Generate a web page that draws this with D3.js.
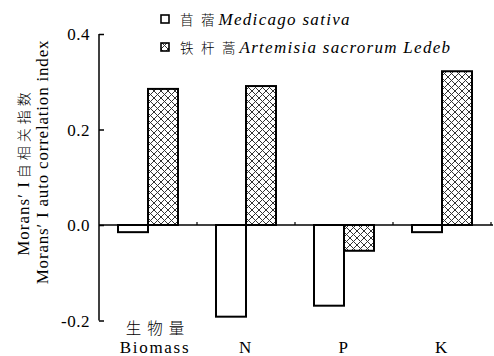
<!DOCTYPE html>
<html><head><meta charset="utf-8">
<script src="https://cdn.jsdelivr.net/npm/d3@7"></script>
<style>body{margin:0;background:#fff}svg{display:block}</style>
</head><body>
<svg id="c" width="494" height="356"></svg>
<script>
const categoriesZh = ["生物量", "", "", ""];
const categoriesEn = ["Biomass", "N", "P", "K"];
const medicago = [-0.015, -0.192, -0.169, -0.015];
const artemisia = [0.285, 0.291, -0.054, 0.322];
const yTicks = [-0.2, 0.0, 0.2, 0.4];
const seriesNames = [
  {zh: "苜蓿", en: "Medicago sativa"},
  {zh: "铁杆蒿", en: "Artemisia sacrorum Ledeb"}
];

const svg = d3.select("#c");
const serif = "'Liberation Serif','Times New Roman',serif";
const cjk = "'Noto Sans CJK SC',sans-serif";

const defs = svg.append("defs");
const pat = defs.append("pattern").attr("id","hatch").attr("patternUnits","userSpaceOnUse")
  .attr("width",7).attr("height",7);
pat.append("rect").attr("width",7).attr("height",7).attr("fill","#fff");
pat.append("path").attr("d","M0,0L7,7M7,0L0,7M-1,6L1,8M6,-1L8,1M-1,1L1,-1M6,8L8,6")
  .attr("stroke","#333").attr("stroke-width",1);

const x = d3.scaleBand().domain(categoriesEn).range([99, 491]).padding(0);
const y = d3.scaleLinear().domain([-0.2, 0.4]).range([320.5, 34]);
const bw = 30;

// bars
const g = svg.append("g");
categoriesEn.forEach((c, i) => {
  const cx = x(c) + x.bandwidth() / 2;
  const v1 = medicago[i], v2 = artemisia[i];
  g.append("rect").attr("x", cx - bw).attr("width", bw)
    .attr("y", y(Math.max(0, v1))).attr("height", Math.abs(y(v1) - y(0)))
    .attr("fill", "#fff").attr("stroke", "#000").attr("stroke-width", 2);
  g.append("rect").attr("x", cx).attr("width", bw)
    .attr("y", y(Math.max(0, v2))).attr("height", Math.abs(y(v2) - y(0)))
    .attr("fill", "url(#hatch)").attr("stroke", "#000").attr("stroke-width", 2);
});

// zero line with category ticks
svg.append("line").attr("x1", 99).attr("x2", 493).attr("y1", y(0)).attr("y2", y(0))
  .attr("stroke", "#000").attr("stroke-width", 1.5);
categoriesEn.forEach(c => {
  const xx = x(c) + x.bandwidth();
  svg.append("line").attr("x1", xx).attr("x2", xx).attr("y1", y(0)).attr("y2", y(0) - 3)
    .attr("stroke", "#000").attr("stroke-width", 1.2);
});

// y axis
const yAxis = d3.axisRight(y).tickValues(yTicks).tickSize(5).tickFormat("");
const ya = svg.append("g").attr("transform", "translate(99,0)").call(yAxis);
ya.select(".domain").attr("d", `M0,${y(0.4)}V${y(-0.2)}`).attr("stroke-width", 1.5);
ya.selectAll(".tick line").attr("stroke-width", 1.5);
svg.selectAll(".ylab").data(yTicks).enter().append("text")
  .attr("x", 90).attr("y", d => y(d) + 6).attr("text-anchor", "end")
  .attr("font-family", serif).attr("font-size", 17).attr("letter-spacing", 0.5)
  .text(d => d3.format(".1f")(d).replace("−", "-"));

// x labels
categoriesEn.forEach((c, i) => {
  const cx = x(c) + x.bandwidth() / 2 + (categoriesZh[i] ? 7 : 0);
  if (categoriesZh[i]) {
    svg.append("text").attr("x", cx + 3).attr("y", 334).attr("text-anchor", "middle")
      .attr("font-family", cjk).attr("font-size", 15.5).attr("font-weight", 300)
      .attr("letter-spacing", 6).text(categoriesZh[i]);
  }
  svg.append("text").attr("x", cx).attr("y", 352.5).attr("text-anchor", "middle")
    .attr("font-family", serif).attr("font-size", 17).attr("letter-spacing", 1.7).text(c);
});

// y title
const t1 = svg.append("text").attr("transform", "translate(29,172) rotate(-90)")
  .attr("text-anchor", "middle").attr("font-size", 17);
t1.append("tspan").attr("font-family", serif).attr("letter-spacing", 1).text("Morans′ I");
t1.append("tspan").attr("font-family", cjk).attr("font-size", 14).attr("font-weight", 300)
  .attr("letter-spacing", 4).attr("dx", 3).text("自相关指数");
svg.append("text").attr("transform", "translate(48,162) rotate(-90)")
  .attr("text-anchor", "middle").attr("font-family", serif).attr("font-size", 17)
  .attr("letter-spacing", 0.8).text("Morans′ I auto correlation index");

// legend
seriesNames.forEach((s, i) => {
  const by = 25 + i * 28;
  svg.append("rect").attr("x", 161).attr("y", by - 10).attr("width", 8).attr("height", 8)
    .attr("fill", i === 0 ? "#fff" : "url(#hatch)").attr("stroke", "#000").attr("stroke-width", 1.6);
  const t = svg.append("text").attr("x", 180).attr("y", by);
  t.append("tspan").attr("font-family", cjk).attr("font-size", 13.5).attr("font-weight", 300)
    .attr("letter-spacing", 7.5).text(s.zh);
  t.append("tspan").attr("font-family", serif).attr("font-style", "italic").attr("font-size", 17)
    .attr("letter-spacing", 1.3).attr("dx", -3.5).text(s.en);
});
</script>
</body></html>
